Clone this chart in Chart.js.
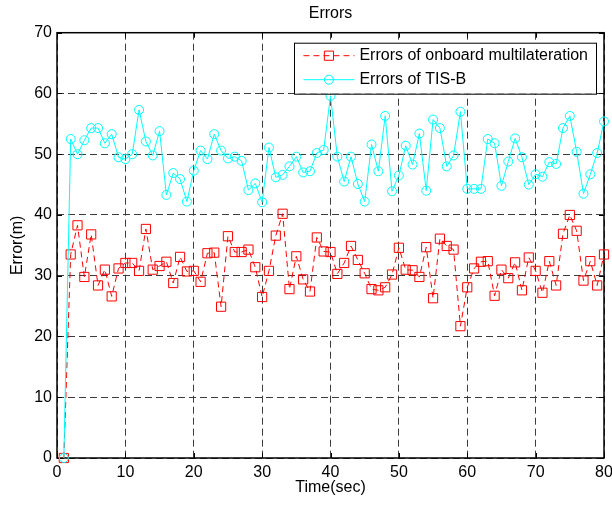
<!DOCTYPE html>
<html>
<head>
<meta charset="utf-8">
<script src="https://cdn.jsdelivr.net/npm/chart.js@4.4.0/dist/chart.umd.min.js"></script>
<style>
  body { margin: 0; background: #fff; }
  #wrap { width: 612px; height: 505px; }
</style>
</head>
<body>
<div id="wrap"><canvas id="chart" width="612" height="505"></canvas></div>
<script>
const times = [1, 2, 3, 4, 5, 6, 7, 8, 9, 10, 11, 12, 13, 14, 15, 16, 17, 18, 19, 20,
  21, 22, 23, 24, 25, 26, 27, 28, 29, 30, 31, 32, 33, 34, 35, 36, 37, 38, 39, 40,
  41, 42, 43, 44, 45, 46, 47, 48, 49, 50, 51, 52, 53, 54, 55, 56, 57, 58, 59, 60,
  61, 62, 63, 64, 65, 66, 67, 68, 69, 70, 71, 72, 73, 74, 75, 76, 77, 78, 79, 80];

const onboardErrors = [0, 33.5, 38.3, 29.8, 36.8, 28.4, 31.0, 26.6, 31.2, 32.1,
  32.1, 30.8, 37.7, 31.0, 31.6, 32.3, 28.8, 33.1, 30.7, 30.8,
  29.0, 33.7, 33.8, 24.9, 36.5, 33.9, 33.9, 34.3, 31.4, 26.5,
  30.8, 36.6, 40.2, 27.8, 33.2, 29.4, 27.4, 36.3, 34.0, 33.9,
  30.3, 32.1, 34.9, 32.6, 30.4, 27.8, 27.6, 28.1, 30.2, 34.6,
  31.0, 30.9, 29.8, 34.7, 26.3, 36.1, 34.9, 34.3, 21.7, 28.1,
  31.2, 32.3, 32.4, 26.7, 31.0, 29.6, 32.2, 27.6, 33.0, 30.8,
  27.2, 32.4, 28.4, 36.9, 40.0, 37.4, 29.2, 32.4, 28.4, 33.5];

const tisbErrors = [0, 52.5, 50.0, 52.3, 54.3, 54.3, 51.8, 53.3, 49.5, 49.2,
  50.0, 57.3, 52.1, 49.8, 53.8, 43.3, 46.9, 45.9, 42.2, 47.3,
  50.6, 49.2, 53.3, 50.6, 49.3, 49.6, 48.9, 44.1, 45.2, 42.1,
  51.1, 46.2, 46.6, 48.0, 49.6, 47.0, 47.2, 50.2, 50.7, 59.6,
  49.6, 45.5, 49.6, 45.1, 42.2, 51.6, 47.2, 56.3, 43.9, 46.5,
  51.4, 48.3, 53.4, 44.0, 55.7, 54.3, 48.0, 49.8, 57.0, 44.3,
  44.3, 44.3, 52.5, 51.8, 44.8, 48.8, 52.6, 49.5, 45.0, 46.7,
  46.3, 48.7, 48.4, 54.3, 56.3, 50.4, 43.5, 46.7, 50.2, 55.4];

const xTicks = [0, 10, 20, 30, 40, 50, 60, 70, 80];
const yTicks = [0, 10, 20, 30, 40, 50, 60, 70];

const FONT = "'Liberation Sans', Arial, Helvetica, sans-serif";
const textFont = { family: FONT, size: 16, weight: 'normal' };

function toPoints(ys) {
  return times.map((t, i) => ({ x: t, y: ys[i] }));
}

// matlab style axes box with inward ticks
const boxPlugin = {
  id: 'matlabBox',
  beforeDatasetsDraw(chart) {
    const { ctx, chartArea: a, scales: { x, y } } = chart;
    ctx.save();
    ctx.setLineDash([]);
    ctx.strokeStyle = '#000';
    ctx.lineWidth = 1.5;
    ctx.strokeRect(a.left, a.top, a.right - a.left, a.bottom - a.top);
    ctx.lineWidth = 1;
    ctx.beginPath();
    xTicks.forEach(v => {
      const px = Math.round(x.getPixelForValue(v)) + 0.5;
      ctx.moveTo(px, a.bottom); ctx.lineTo(px, a.bottom - 5);
      ctx.moveTo(px, a.top); ctx.lineTo(px, a.top + 5);
    });
    yTicks.forEach(v => {
      const py = Math.round(y.getPixelForValue(v)) + 0.5;
      ctx.moveTo(a.left, py); ctx.lineTo(a.left + 5, py);
      ctx.moveTo(a.right, py); ctx.lineTo(a.right - 5, py);
    });
    ctx.stroke();
    ctx.restore();
  }
};

const legendPlugin = {
  id: 'boxLegend',
  afterDraw(chart) {
    const { ctx, chartArea: a } = chart;
    ctx.save();
    ctx.font = "16px " + FONT;
    const sets = chart.data.datasets;
    const textW = Math.max(...sets.map(d => ctx.measureText(d.label).width));
    const right = a.right - 8;
    const left = right - textW - 73;
    const top = a.top + 10;
    const bottom = top + 51;
    ctx.fillStyle = '#fff';
    ctx.fillRect(left, top, right - left, bottom - top);
    ctx.strokeStyle = '#000';
    ctx.lineWidth = 1;
    ctx.strokeRect(Math.round(left) + 0.5, top + 0.5, Math.round(right - left), bottom - top);

    sets.forEach((d, i) => {
      const cy = top + 13 + i * 24;
      const x0 = left + 9, x1 = left + 60, cx = (x0 + x1) / 2;
      ctx.strokeStyle = d.borderColor;
      ctx.lineWidth = d.borderWidth;
      ctx.setLineDash(d.borderDash || []);
      ctx.beginPath();
      ctx.moveTo(x0, cy); ctx.lineTo(x1, cy);
      ctx.stroke();
      ctx.setLineDash([]);
      ctx.strokeStyle = d.pointBorderColor;
      ctx.fillStyle = 'rgba(0,0,0,0)';
      Chart.helpers.drawPoint(ctx, {
        pointStyle: d.pointStyle, radius: d.pointRadius, rotation: 0, borderWidth: 1
      }, cx, cy);
      ctx.fillStyle = '#000';
      ctx.textBaseline = 'middle';
      ctx.textAlign = 'left';
      ctx.fillText(d.label, left + 65, cy);
    });
    ctx.restore();
  }
};

new Chart(document.getElementById('chart'), {
  type: 'line',
  data: {
    datasets: [
      {
        label: 'Errors of onboard multilateration',
        data: toPoints(onboardErrors),
        borderColor: '#ff0000',
        borderWidth: 1,
        borderDash: [6, 4],
        pointStyle: 'rect',
        pointRadius: 6.5,
        pointBorderColor: '#ff0000',
        pointBackgroundColor: 'rgba(0,0,0,0)',
        pointBorderWidth: 1,
        tension: 0,
        clip: false,
        order: 1
      },
      {
        label: 'Errors of TIS-B',
        data: toPoints(tisbErrors),
        borderColor: '#00ffff',
        borderWidth: 1,
        pointStyle: 'circle',
        pointRadius: 4.5,
        pointBorderColor: '#00ffff',
        pointBackgroundColor: 'rgba(0,0,0,0)',
        pointBorderWidth: 1,
        tension: 0,
        clip: false,
        order: 0
      }
    ]
  },
  options: {
    responsive: false,
    animation: false,
    devicePixelRatio: 1,
    layout: { padding: { left: 0, right: 0, top: 0, bottom: 0 } },
    plugins: {
      legend: { display: false },
      tooltip: { enabled: false },
      title: {
        display: true,
        text: 'Errors',
        color: '#000',
        fullSize: false,
        font: textFont,
        padding: { top: 4, bottom: 9.5 }
      }
    },
    scales: {
      x: {
        type: 'linear',
        min: 0,
        max: 80,
        afterBuildTicks: s => { s.ticks = xTicks.map(v => ({ value: v })); },
        afterFit: s => { s.height = 47; s.paddingRight = 8; },
        grid: { color: '#3c3c3c', lineWidth: 1, drawTicks: false },
        border: { display: false, dash: [7, 4] },
        ticks: { color: '#000', font: textFont, padding: 5, maxRotation: 0 },
        title: { display: true, text: 'Time(sec)', color: '#000', font: textFont, padding: { top: 0, bottom: 8 } }
      },
      y: {
        type: 'linear',
        min: 0,
        max: 70,
        afterBuildTicks: s => { s.ticks = yTicks.map(v => ({ value: v })); },
        afterFit: s => { s.width = 57; },
        grid: { color: '#3c3c3c', lineWidth: 1, drawTicks: false },
        border: { display: false, dash: [7, 4] },
        ticks: { color: '#000', font: textFont, padding: 5 },
        title: { display: true, text: 'Error(m)', color: '#000', font: textFont, padding: { top: 8, bottom: 0 } }
      }
    }
  },
  plugins: [boxPlugin, legendPlugin]
});
</script>
</body>
</html>
